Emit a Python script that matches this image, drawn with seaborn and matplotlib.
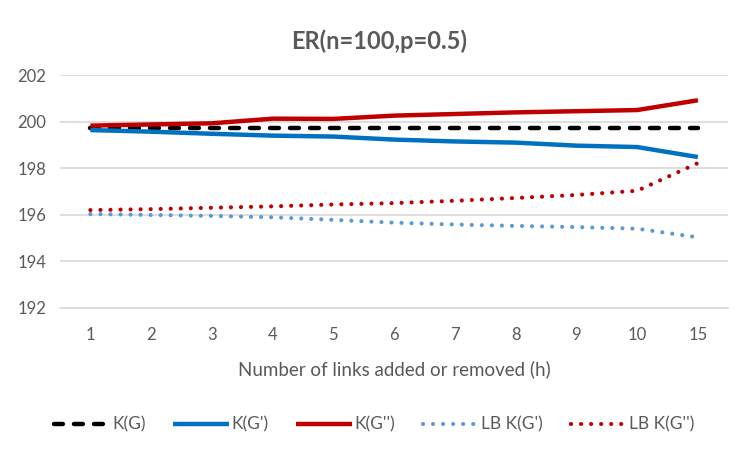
import numpy as np
import pandas as pd
import seaborn as sns
import matplotlib.pyplot as plt

h = ["1", "2", "3", "4", "5", "6", "7", "8", "9", "10", "15"]
k_g = [199.71] * 11
k_g1 = [199.64, 199.57, 199.48, 199.40, 199.36, 199.23, 199.15, 199.10, 198.97, 198.91, 198.48]
k_g2 = [199.83, 199.88, 199.93, 200.13, 200.12, 200.26, 200.33, 200.40, 200.45, 200.50, 200.92]
lb_g1 = [196.03, 195.99, 195.95, 195.89, 195.78, 195.66, 195.58, 195.52, 195.47, 195.40, 195.03]
lb_g2 = [196.20, 196.24, 196.30, 196.36, 196.44, 196.50, 196.60, 196.72, 196.85, 197.03, 198.22]

series = {"K(G)": k_g, "K(G')": k_g1, "K(G'')": k_g2, "LB K(G')": lb_g1, "LB K(G'')": lb_g2}
styles = {
    "K(G)": dict(color="black", ls=(0, (2.0, 2.5)), lw=3.2),
    "K(G')": dict(color="#0070C0", ls="-", lw=3.2),
    "K(G'')": dict(color="#C00000", ls="-", lw=3.2),
    "LB K(G')": dict(color="#5B9BD5", ls=(0, (0.01, 2.4)), lw=3.0),
    "LB K(G'')": dict(color="#C00000", ls=(0, (0.01, 2.4)), lw=3.0),
}

df = pd.DataFrame([
    {"pos": i, "series": name, "value": v}
    for name, vals in series.items() for i, v in enumerate(vals)
])

sns.set_theme(style="white")
plt.rcParams["font.family"] = ["Lato", "DejaVu Sans"]

fig = plt.figure(figsize=(7.5, 4.5), dpi=100)
ax = fig.add_axes([0.08, 0.316, 0.891, 0.517])

for name in series:
    st = styles[name]
    sub = df[df["series"] == name]
    sns.lineplot(data=sub, x="pos", y="value", ax=ax, color=st["color"],
                 linewidth=st["lw"], label=name, dash_capstyle="round",
                 solid_capstyle="butt")
    ax.lines[-1].set_linestyle(st["ls"])

ax.set_xlim(-0.5, len(h) - 0.5)
ax.set_ylim(192, 202)
ax.set_yticks(np.arange(192, 203, 2))
ax.set_xticks(range(len(h)))
ax.set_xticklabels(h)
ax.yaxis.grid(True, color="#D9D9D9", lw=1.2)
ax.set_axisbelow(True)
for s in ["top", "right", "left"]:
    ax.spines[s].set_visible(False)
ax.spines["bottom"].set_color("#D9D9D9")
ax.spines["bottom"].set_linewidth(1.2)
ax.tick_params(axis="x", length=0, labelsize=12, colors="#595959", pad=14)
ax.tick_params(axis="y", length=0, labelsize=12, colors="#595959", pad=10)

ax.set_xlabel("Number of links added or removed (h)", fontsize=13.5, color="#595959", labelpad=12)
ax.set_ylabel("")
fig.suptitle("ER(n=100,p=0.5)", x=0.505, y=0.935, fontsize=17, fontweight="bold", color="#595959")

leg = ax.legend(loc="upper center", bbox_to_anchor=(0.47, -0.40), ncol=5, frameon=False,
                fontsize=12.5, handlelength=3.2, columnspacing=1.6, handletextpad=0.15)
for t in leg.get_texts():
    t.set_color("#595959")

fig.savefig("out.png", dpi=100)
